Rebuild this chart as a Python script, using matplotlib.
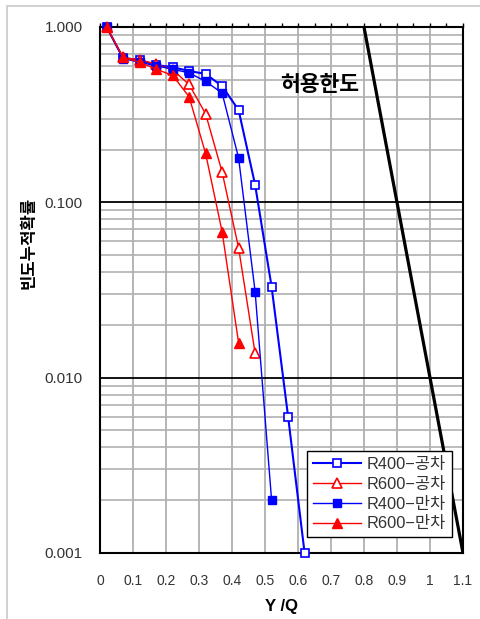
import matplotlib
matplotlib.use("Agg")
import matplotlib.pyplot as plt
from matplotlib.ticker import FixedLocator, MultipleLocator, LogLocator, NullFormatter
from matplotlib.patches import Rectangle

x_all = [0.02, 0.07, 0.12, 0.17, 0.22, 0.27, 0.32, 0.37, 0.42, 0.47, 0.52, 0.57, 0.62]
r400_gong = [1.0, 0.665, 0.648, 0.607, 0.59, 0.561, 0.54, 0.46, 0.336, 0.126, 0.033, 0.006, 0.001]
r600_gong = [1.0, 0.67, 0.65, 0.615, 0.57, 0.47, 0.32, 0.149, 0.055, 0.0138]
r400_man = [1.0, 0.66, 0.63, 0.6, 0.575, 0.547, 0.49, 0.42, 0.179, 0.031, 0.002]
r600_man = [1.0, 0.67, 0.63, 0.575, 0.53, 0.40, 0.19, 0.068, 0.0158]
limit_x = [0.8, 1.1]
limit_y = [1.0, 0.001]
xticks = [0, 0.1, 0.2, 0.3, 0.4, 0.5, 0.6, 0.7, 0.8, 0.9, 1.0, 1.1]
xtick_labels = ["0", "0.1", "0.2", "0.3", "0.4", "0.5", "0.6", "0.7", "0.8", "0.9", "1", "1.1"]
yticks = [0.001, 0.01, 0.1, 1.0]
ytick_labels = ["0.001", "0.010", "0.100", "1.000"]
labels = ["R400\u2212공차", "R600\u2212공차", "R400\u2212만차", "R600\u2212만차"]

fam = ['Liberation Sans', 'Noto Sans CJK KR']
W, H = 481, 619
fig = plt.figure(figsize=(W / 100, H / 100), dpi=100)
ax = fig.add_axes([100 / W, 1 - 553 / H, 363 / W, 526 / H])

# figure border
fig.patches.append(Rectangle((6.5 / W, -0.1), 2, 1 - 6.5 / H + 0.1, transform=fig.transFigure,
                             fill=False, edgecolor='#c8c8c8', lw=1.2))

ax.set_yscale('log')
ax.set_xlim(0, 1.1)
ax.set_ylim(0.001, 1.0)

# grid
ax.yaxis.set_major_locator(FixedLocator(yticks))
ax.yaxis.set_minor_locator(LogLocator(base=10, subs=range(2, 10)))
ax.yaxis.set_minor_formatter(NullFormatter())
ax.set_yticklabels(ytick_labels)
ax.grid(which='major', axis='y', color='black', lw=1.3)
ax.grid(which='minor', axis='y', color='#b0b0b0', lw=1.2)
ax.xaxis.set_major_locator(FixedLocator(xticks))
ax.xaxis.set_minor_locator(MultipleLocator(0.05))
ax.set_xticklabels(xtick_labels)
ax.grid(which='major', axis='x', color='#b0b0b0', lw=1.3)
ax.set_axisbelow(True)

ax.tick_params(axis='y', which='both', left=False, right=False, pad=9, labelsize=11, labelcolor='#333333')
ax.tick_params(axis='x', which='both', bottom=False, top=True, direction='out', length=3,
               width=1, color='black', labelbottom=True, labeltop=False, pad=12, labelsize=10,
               labelcolor='#333333')
for lab in ax.get_xticklabels() + ax.get_yticklabels():
    lab.set_family(fam)
for s in ax.spines.values():
    s.set_color('black')
    s.set_linewidth(1.5)

ax.plot(limit_x, limit_y, color='black', lw=2.3, zorder=3)

kw = dict(clip_on=False, zorder=5)
ax.plot(x_all[:len(r400_gong)], r400_gong, color='blue', lw=1.5, marker='s', ms=6,
        mfc='white', mec='blue', mew=1.2, label=labels[0], **kw)
ax.plot(x_all[:len(r600_gong)], r600_gong, color='red', lw=1.0, marker='^', ms=7,
        mfc='white', mec='red', mew=1.2, label=labels[1], **kw)
ax.plot(x_all[:len(r400_man)], r400_man, color='blue', lw=1.0, marker='s', ms=6,
        mfc='blue', mec='blue', label=labels[2], **kw)
ax.plot(x_all[:len(r600_man)], r600_man, color='red', lw=1.0, marker='^', ms=7.5,
        mfc='red', mec='red', label=labels[3], **kw)

leg = ax.legend(loc='lower right', bbox_to_anchor=(0.97, 0.03), fancybox=False,
                framealpha=1, edgecolor='black', prop={'family': fam, 'size': 11.8},
                handlelength=2.9, handletextpad=0.4, borderpad=0.35, labelspacing=0.3,
                borderaxespad=0)
leg.get_frame().set_linewidth(1.0)
for t in leg.get_texts():
    t.set_color('#333333')
leg.set_zorder(10)

ax.text(0.606, 0.89, "허용한도", transform=ax.transAxes, fontsize=15.5, fontweight='bold',
        family='Noto Sans CJK KR', ha='center', va='center')

ax.set_xlabel("Y /Q", fontsize=12, fontweight='bold', family=fam, labelpad=8)
ax.set_ylabel("빈도누적확률", fontsize=12, fontweight='bold', family='Noto Sans CJK KR')
ax.yaxis.set_label_coords(-0.171, 0.589)

fig.savefig("out.png", dpi=100)
